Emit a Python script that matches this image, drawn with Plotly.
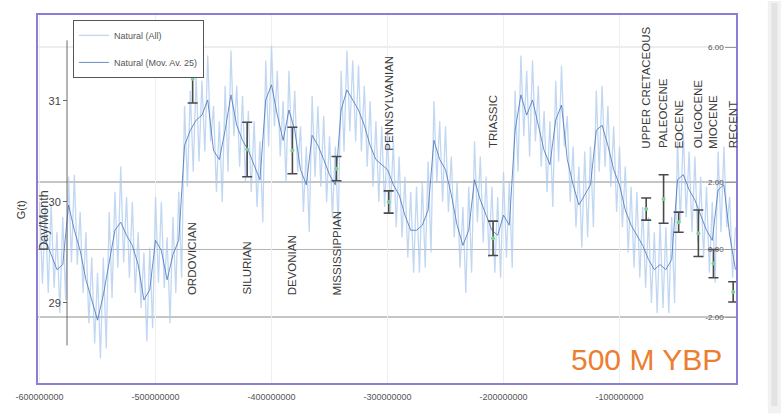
import plotly.graph_objects as go

# ---------------------------------------------------------------------------
# Data: days per synodic month through geological time (Myr before present)
# ---------------------------------------------------------------------------
ALL_START_MYR = 600.0   # first sample of the raw series
ALL_STEP_MYR = 2.5      # spacing of the raw series
MOV_STEP_MYR = 5.0      # spacing of the moving-average series

# Natural (All): raw series, 600 -> 0 Myr BP
natural_all = [
    30.00, 29.19, 29.95, 29.10, 29.98, 29.15, 29.70, 28.90, 29.85, 29.03,
    30.25, 29.40, 30.27, 29.38, 29.90, 29.10, 29.70, 28.80, 29.45, 28.60,
    29.30, 28.45, 29.45, 28.55, 29.90, 29.05, 30.10, 29.35, 30.35, 29.40,
    30.05, 29.25, 30.00, 29.10, 29.70, 28.95, 29.50, 28.62, 29.55, 28.75,
    30.05, 29.20, 30.00, 29.15, 29.65, 28.80, 29.85, 29.10, 30.10, 29.25,
    30.95, 30.15, 31.10, 30.30, 31.25, 30.40, 31.20, 30.50, 31.45, 30.60,
    30.95, 30.10, 30.80, 30.00, 31.15, 30.30, 31.50, 30.65, 31.15, 30.35,
    31.05, 30.20, 30.90, 30.10, 30.80, 29.95, 30.60, 29.80, 31.40, 30.55,
    31.55, 30.75, 31.30, 30.45, 31.00, 30.20, 31.30, 30.50, 31.10, 30.30,
    30.75, 29.90, 30.55, 29.70, 31.05, 30.25, 30.95, 30.15, 30.85, 30.00,
    30.65, 29.85, 30.55, 29.75, 31.30, 30.50, 31.50, 30.70, 31.40, 30.60,
    31.35, 30.50, 31.15, 30.35, 31.00, 30.15, 30.80, 30.00, 30.75, 29.95,
    30.70, 29.90, 30.60, 29.75, 30.45, 29.65, 30.25, 29.45, 30.10, 29.30,
    30.15, 29.30, 30.20, 29.35, 30.40, 29.50, 31.00, 30.20, 30.80, 30.00,
    30.75, 29.90, 30.45, 29.65, 30.20, 29.35, 29.95, 29.10, 30.15, 29.30,
    30.60, 29.80, 30.45, 29.60, 30.25, 29.45, 30.15, 29.30, 30.05, 29.25,
    30.30, 29.45, 30.20, 29.35, 31.10, 30.30, 31.45, 30.65, 31.30, 30.45,
    31.40, 30.60, 31.15, 30.35, 30.90, 30.10, 30.80, 29.95, 31.20, 30.40,
    31.35, 30.55, 30.85, 30.00, 30.55, 29.75, 30.35, 29.55, 30.50, 29.65,
    30.55, 29.75, 31.10, 30.30, 31.15, 30.35, 30.95, 30.15, 30.75, 29.90,
    30.55, 29.75, 30.35, 29.50, 30.15, 29.35, 30.10, 29.25, 29.95, 29.15,
    29.85, 29.00, 29.70, 28.90, 29.80, 28.95, 29.75, 28.90, 29.85, 29.00,
    30.60, 29.80, 30.70, 29.85, 30.50, 29.70, 30.45, 29.60, 30.25, 29.45,
    30.15, 29.30, 30.00, 29.20, 30.50, 29.70, 30.55, 29.75, 30.05, 29.25,
    29.75,
]

# Natural (Mov. Av. 25): smoothed series, 600 -> 0 Myr BP
natural_mov = [
    29.57, 29.62, 29.48, 29.33, 29.38, 29.97, 29.72, 29.52, 29.23, 29.03,
    28.83, 29.08, 29.41, 29.72, 29.80, 29.67, 29.57, 29.38, 29.03, 29.13,
    29.62, 29.52, 29.23, 29.48, 29.62, 30.56, 30.71, 30.81, 30.86, 31.01,
    30.51, 30.42, 30.71, 31.06, 30.76, 30.61, 30.51, 30.37, 30.22, 31.01,
    31.16, 30.86, 30.61, 30.91, 30.71, 30.32, 30.17, 30.66, 30.56, 30.42,
    30.27, 30.17, 30.91, 31.11, 31.01, 30.91, 30.76, 30.56, 30.42, 30.37,
    30.32, 30.17, 30.07, 29.87, 29.72, 29.72, 29.77, 29.92, 30.61, 30.42,
    30.32, 30.07, 29.77, 29.57, 29.72, 30.22, 30.02, 29.87, 29.72, 29.67,
    29.87, 29.77, 30.71, 31.06, 30.86, 31.01, 30.76, 30.51, 30.37, 30.81,
    30.96, 30.42, 30.17, 29.97, 30.07, 30.17, 30.71, 30.76, 30.56, 30.32,
    30.17, 29.92, 29.77, 29.67, 29.57, 29.43, 29.33, 29.38, 29.33, 29.43,
    30.22, 30.27, 30.12, 30.02, 29.87, 29.72, 29.62, 30.12, 30.17, 29.67,
    29.33,
]

# Fossil growth-band estimates per geological period
period_names = [
    "ORDOVICIAN", "SILURIAN", "DEVONIAN", "MISSISSIPPIAN", "PENNSYLVANIAN",
    "TRIASSIC", "UPPER CRETACEOUS", "PALEOCENE", "EOCENE", "OLIGOCENE",
    "MIOCENE", "RECENT",
]
period_myr = [468, 421, 382, 344, 299, 209, 77, 62, 49, 32, 19, 2]
fossil_days = [31.22, 30.52, 30.51, 30.33, 30.00, 29.64,
               29.93, 30.03, 29.80, 29.69, 29.39, 29.11]
fossil_err = [0.24, 0.27, 0.23, 0.12, 0.11, 0.17,
              0.11, 0.24, 0.10, 0.23, 0.14, 0.10]
# lower end of each rotated period label (Day/Month units)
period_label_base = [29.06, 29.06, 29.06, 29.06, 30.49, 30.51,
                     30.51, 30.51, 30.51, 30.51, 30.51, 30.51]

# Axis ticks
x_tick_vals = [-600e6, -500e6, -400e6, -300e6, -200e6, -100e6, 0]
x_tick_text = ["-600000000", "-500000000", "-400000000", "-300000000",
               "-200000000", "-100000000", "0"]
left_ticks = [29, 30, 31]
right_ticks = [6, 2, 0, -2, -4]
right_tick_text = ["6.00", "2.00", "0.00", "-2.00", "-4.00"]
right_grid_colors = ["#dcdcdc", "#8c8c8c", "#b4b4b4", "#8c8c8c", "rgba(0,0,0,0)"]

# ---------------------------------------------------------------------------
# Build x coordinates (years, negative = before present)
# ---------------------------------------------------------------------------
x_all = [-(ALL_START_MYR - i * ALL_STEP_MYR) * 1e6 for i in range(len(natural_all))]
x_mov = [-(ALL_START_MYR - i * MOV_STEP_MYR) * 1e6 for i in range(len(natural_mov))]
x_fossil = [-m * 1e6 for m in period_myr]

FONT = "Liberation Sans, Arial, Helvetica, sans-serif"

fig = go.Figure()

fig.add_trace(go.Scatter(
    x=x_all, y=natural_all, mode="lines", name="Natural (All)",
    line=dict(color="rgba(172,202,238,0.75)", width=1.3),
    legendgroup="a",
))
fig.add_trace(go.Scatter(
    x=x_mov, y=natural_mov, mode="lines", name="Natural (Mov. Av. 25)",
    line=dict(color="rgba(70,115,185,0.8)", width=1),
    legendgroup="b",
))
fig.add_trace(go.Scatter(
    x=x_fossil, y=fossil_days, mode="markers", showlegend=False,
    marker=dict(color="#7dcf95", size=4),
    error_y=dict(type="data", array=fossil_err, color="#4a4a4a",
                 thickness=1.6, width=5),
))

# Right-hand helper axis (grid reference lines)
fig.add_trace(go.Scatter(x=[None], y=[None], yaxis="y2", showlegend=False))

# Period labels
for name, m, base in zip(period_names, period_myr, period_label_base):
    fig.add_annotation(
        x=-m * 1e6, y=base, xref="x", yref="y", text=name,
        textangle=-90, showarrow=False, xanchor="center", yanchor="bottom",
        font=dict(family=FONT, size=11.5, color="#3a3a3a"),
    )

# Horizontal reference lines on the right-hand scale
for val, col in zip(right_ticks, right_grid_colors):
    fig.add_shape(type="line", xref="paper", yref="y2", x0=0, x1=1,
                  y0=val, y1=val, line=dict(color=col, width=1), layer="below")

# Inner Day/Month axis line
fig.add_shape(type="line", xref="paper", yref="y", x0=0.0429, x1=0.0429,
              y0=31.60, y1=28.58, line=dict(color="#6a6a6a", width=1))

# Plot frame
fig.add_shape(type="rect", xref="paper", yref="paper", x0=0, x1=1, y0=0, y1=1,
              line=dict(color="#8a7ed6", width=2))

# Soft page shadow on the right edge
fig.add_shape(type="rect", xref="paper", yref="paper", x0=1.044, x1=1.063,
              y0=-0.08, y1=1.035, line=dict(width=0),
              fillcolor="rgba(0,0,0,0.05)")
fig.add_shape(type="rect", xref="paper", yref="paper", x0=1.049, x1=1.058,
              y0=-0.06, y1=1.03, line=dict(width=0),
              fillcolor="rgba(0,0,0,0.06)")

fig.add_annotation(x=-0.034, y=0.47, xref="paper", yref="paper", text="G(t)",
                   textangle=-90, showarrow=False,
                   font=dict(family=FONT, size=11, color="#333333"))
fig.add_annotation(x=-0.002, y=0.44, xref="paper", yref="paper", text="Day/Month",
                   textangle=-90, showarrow=False,
                   font=dict(family=FONT, size=12.5, color="#444444"))
fig.add_annotation(x=0.982, y=0.065, xref="paper", yref="paper", text="500 M YBP",
                   showarrow=False, xanchor="right", yanchor="middle",
                   font=dict(family="Liberation Sans Narrow, Arial Narrow, " + FONT,
                             size=30, color="#ED7D31"))

fig.update_layout(
    width=781, height=416,
    margin=dict(l=37, r=44, t=14, b=32),
    paper_bgcolor="white", plot_bgcolor="white",
    font=dict(family=FONT, color="#444444"),
    showlegend=True,
    legend=dict(
        x=0.0514, y=0.984, xanchor="left", yanchor="top",
        bgcolor="white", bordercolor="#555555", borderwidth=1,
        font=dict(family=FONT, size=9, color="#555555"),
        traceorder="grouped", tracegroupgap=8, itemwidth=30,
    ),
    xaxis=dict(
        range=[-602.2e6, 1.3e6], tickvals=x_tick_vals, ticktext=x_tick_text,
        showgrid=True, gridcolor="#efefef", zeroline=False, showline=False,
        ticks="", ticklabelstandoff=6,
        tickfont=dict(family=FONT, size=9, color="#555555"),
    ),
    yaxis=dict(
        range=[28.198, 31.861], tickvals=left_ticks, anchor="free",
        position=0.0429, ticks="outside", ticklen=4, tickcolor="#666666",
        showgrid=False, zeroline=False, showline=False,
        tickfont=dict(family=FONT, size=11, color="#444444"),
    ),
    yaxis2=dict(
        range=[-3.985, 6.978], overlaying="y", side="right",
        tickvals=right_ticks, ticktext=right_tick_text,
        ticklabelposition="inside", ticks="inside", ticklen=12,
        tickcolor="#999999", showgrid=False, zeroline=False, showline=False,
        tickfont=dict(family=FONT, size=8, color="#555555"),
    ),
)

fig.write_html("out.html")
